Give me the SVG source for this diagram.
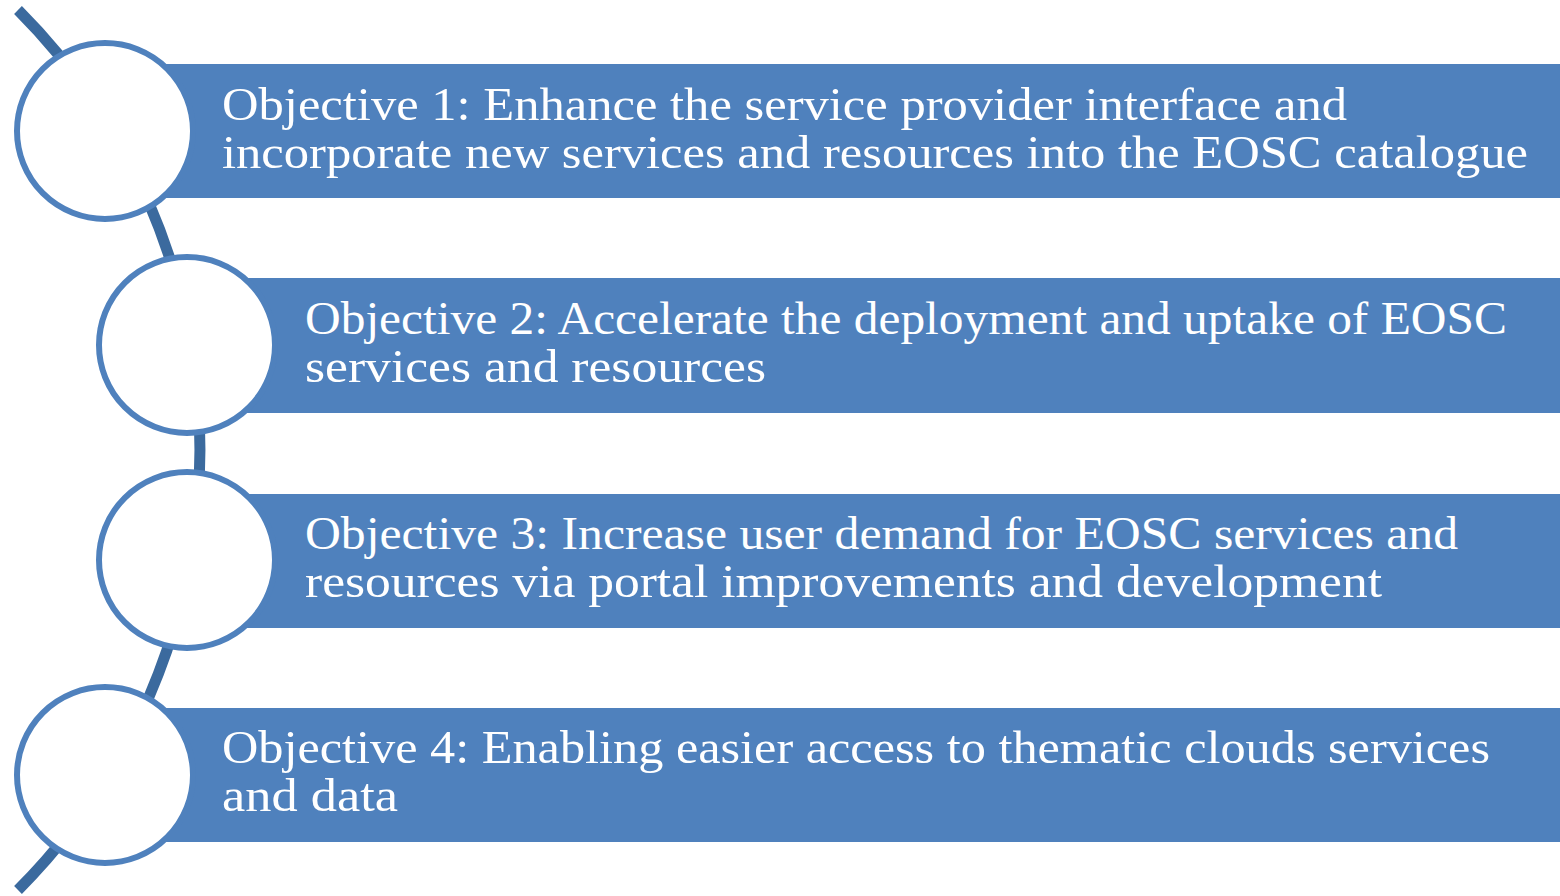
<svg xmlns="http://www.w3.org/2000/svg" width="1560" height="896" viewBox="0 0 1560 896">
<style>
.arc{fill:none;stroke:#3b6a9e;stroke-width:11}
.bar{fill:#4f81bd}
.ring{fill:#ffffff;stroke:#4f81bd;stroke-width:6}
.t{font-family:"Liberation Serif","DejaVu Serif",serif;font-size:46px;fill:#ffffff}
</style>
<rect width="1560" height="896" fill="#ffffff"/>
<g id="connectors">
<path class="arc" d="M 18,10 A 623 623 0 0 1 18,890"/>
</g>
<g id="objective1">
<rect class="bar" x="105" y="64" width="1455" height="134"/>
<circle class="ring" cx="105" cy="131" r="88"/>
<text class="t" x="222" y="120" textLength="1125" lengthAdjust="spacingAndGlyphs">Objective 1: Enhance the service provider interface and</text>
<text class="t" x="222" y="168" textLength="1306" lengthAdjust="spacingAndGlyphs">incorporate new services and resources into the EOSC catalogue</text>
</g>
<g id="objective2">
<rect class="bar" x="187" y="278" width="1373" height="135"/>
<circle class="ring" cx="187" cy="345" r="88"/>
<text class="t" x="305" y="334" textLength="1202" lengthAdjust="spacingAndGlyphs">Objective 2: Accelerate the deployment and uptake of EOSC</text>
<text class="t" x="305" y="382" textLength="461" lengthAdjust="spacingAndGlyphs">services and resources</text>
</g>
<g id="objective3">
<rect class="bar" x="187" y="494" width="1373" height="134"/>
<circle class="ring" cx="187" cy="560" r="88"/>
<text class="t" x="305" y="549" textLength="1153" lengthAdjust="spacingAndGlyphs">Objective 3: Increase user demand for EOSC services and</text>
<text class="t" x="305" y="597" textLength="1077" lengthAdjust="spacingAndGlyphs">resources via portal improvements and development</text>
</g>
<g id="objective4">
<rect class="bar" x="105" y="708" width="1455" height="134"/>
<circle class="ring" cx="105" cy="775" r="88"/>
<text class="t" x="222" y="763" textLength="1268" lengthAdjust="spacingAndGlyphs">Objective 4: Enabling easier access to thematic clouds services</text>
<text class="t" x="222" y="811" textLength="176" lengthAdjust="spacingAndGlyphs">and data</text>
</g>
</svg>
